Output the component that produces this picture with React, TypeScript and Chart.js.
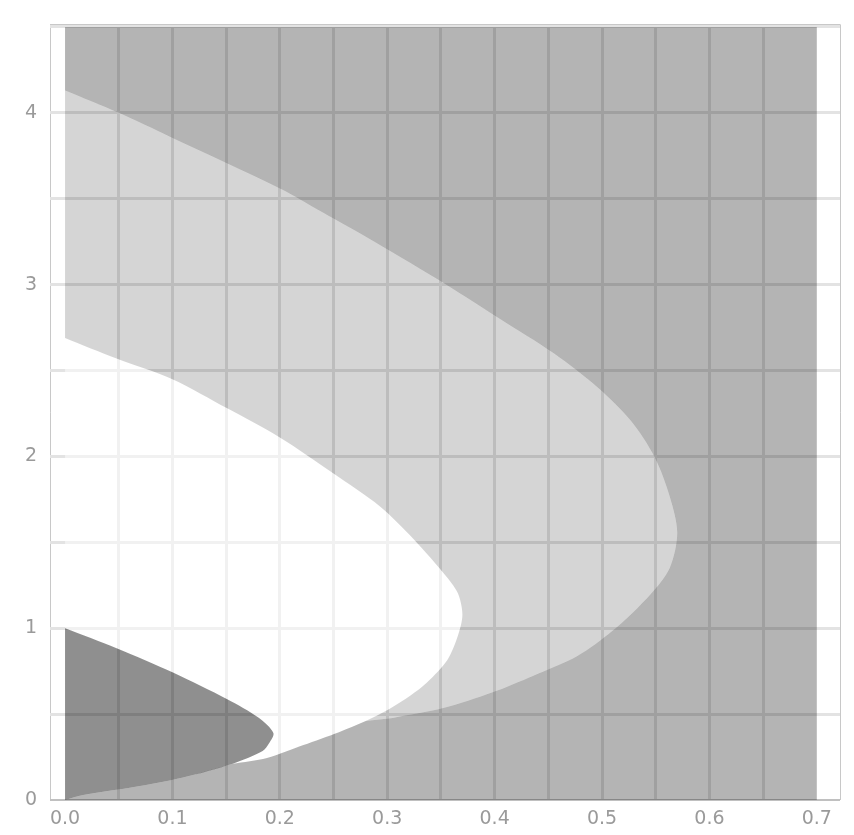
import React, { useEffect, useRef } from 'react';
import { Chart, registerables } from 'chart.js';

Chart.register(...registerables);

// Axis extents (frame) and tick lists
const xMin = -0.014;
const xMax = 0.7216;
const yMin = 0;
const yMax = 4.515;
const xTicks = [xMin, 0, 0.05, 0.1, 0.15, 0.2, 0.25, 0.3, 0.35, 0.4, 0.45, 0.5, 0.55, 0.6, 0.65, 0.7, xMax];
const yTicks = [0, 0.5, 1, 1.5, 2, 2.5, 3, 3.5, 4, 4.5, yMax];
const xLabelValues = [0, 0.1, 0.2, 0.3, 0.4, 0.5, 0.6, 0.7];
const yLabelValues = [0, 1, 2, 3, 4];

// Plot domain (region extent)
const domainX = [0, 0.7];
const domainY = [0, 4.5];

// Inner (darkest) curve: upper branch from left edge to tip
const c1UpperX = [0, 0.048, 0.101, 0.151, 0.18, 0.194];
const c1UpperY = [1.0, 0.884, 0.741, 0.587, 0.48, 0.39];
// lower branch from tip to junction with the white region's lower edge
const c1LowerAX = [0.19, 0.184, 0.156];
const c1LowerAY = [0.33, 0.285, 0.211];
// lower branch from junction to origin
const c1LowerBX = [0.11, 0.063, 0.017, 0];
const c1LowerBY = [0.131, 0.074, 0.029, 0];

// White region outer curve: lower edge from junction to second junction
const c2LowerAX = [0.188, 0.222, 0.255, 0.28];
const c2LowerAY = [0.245, 0.32, 0.395, 0.46];
// lower edge up to tip
const c2LowerBX = [0.302, 0.322, 0.337, 0.356, 0.366, 0.37];
const c2LowerBY = [0.53, 0.61, 0.684, 0.815, 0.96, 1.08];
// upper edge from tip to left edge
const c2UpperX = [0.366, 0.356, 0.324, 0.293, 0.25, 0.2, 0.151, 0.1, 0.048, 0];
const c2UpperY = [1.2, 1.294, 1.522, 1.71, 1.9, 2.11, 2.28, 2.45, 2.57, 2.69];

// Light region outer curve: lower edge from junction to tip
const c3LowerX = [0.305, 0.352, 0.398, 0.436, 0.477, 0.51, 0.545, 0.563, 0.57];
const c3LowerY = [0.478, 0.535, 0.627, 0.724, 0.838, 0.986, 1.197, 1.351, 1.556];
// upper edge from tip to left edge
const c3UpperX = [0.563, 0.549, 0.527, 0.497, 0.455, 0.405, 0.355, 0.288, 0.24, 0.2, 0.098, 0.05, 0];
const c3UpperY = [1.767, 1.995, 2.206, 2.395, 2.6, 2.8, 3.0, 3.25, 3.42, 3.56, 3.86, 4.0, 4.13];

const FONT = 'DejaVu Sans';
const GRID = '#e3e3e3';
const FRAME = '#c8c8c8';

type P = { x: number; y: number };
const pts = (xs: number[], ys: number[]): P[] => xs.map((x, i) => ({ x, y: ys[i] }));
const rev = (a: P[]) => [...a].reverse();
// join smooth pieces; duplicate each piece's end points so joins are sharp corners
const poly = (...pieces: P[][]): P[] =>
  pieces.flatMap((p) => [p[0], ...p, p[p.length - 1]]);

export default function App() {
  const ref = useRef<HTMLCanvasElement>(null);

  useEffect(() => {
    document.body.style.margin = '0';
    document.body.style.overflow = 'hidden';

    const c1Up = pts(c1UpperX, c1UpperY);
    const c1LA = pts(c1LowerAX, c1LowerAY);
    const c1LB = pts(c1LowerBX, c1LowerBY);
    const c2LA = pts(c2LowerAX, c2LowerAY);
    const c2LB = pts(c2LowerBX, c2LowerBY);
    const c2Up = pts(c2UpperX, c2UpperY);
    const c3Lo = pts(c3LowerX, c3LowerY);
    const c3Up = pts(c3UpperX, c3UpperY);
    const M2 = c1LA[c1LA.length - 1];
    const M3 = c2LA[c2LA.length - 1];

    const dark = poly([...c1Up, ...c1LA, ...c1LB]);
    const white = poly([...c1Up, ...c1LA], [M2, ...c2LA, ...c2LB, ...c2Up]);
    const light = poly([M3, ...c2LB, ...c2Up], [...rev(c3Up), ...rev(c3Lo)]);
    const medium = poly(
      [{ x: domainX[0], y: domainY[1] }],
      [...rev(c3Up), ...rev(c3Lo)],
      [...rev(c2LA), M2],
      [M2, ...c1LB],
      [{ x: domainX[1], y: domainY[0] }],
      [{ x: domainX[1], y: domainY[1] }],
    );

    const ds = (data: P[], color: string) => ({
      data,
      showLine: true,
      fill: 'shape' as const,
      backgroundColor: color,
      borderColor: 'rgba(0,0,0,0)',
      borderWidth: 0,
      pointRadius: 0,
      tension: 0.3,
    });

    const near = (a: number, b: number) => Math.abs(a - b) < 1e-9;

    const chart = new Chart(ref.current!, {
      type: 'scatter',
      data: {
        datasets: [
          ds(medium, 'rgba(0,0,0,0.295)'),
          ds(light, 'rgba(0,0,0,0.165)'),
          ds(dark, 'rgba(0,0,0,0.44)'),
          ds(white, 'rgba(255,255,255,0.5)'),
        ] as any,
      },
      options: {
        animation: false,
        responsive: false,
        devicePixelRatio: 1,
        events: [],
        layout: { padding: { top: 9, right: 14, left: 0, bottom: 0 } },
        plugins: { legend: { display: false }, tooltip: { enabled: false } },
        scales: {
          x: {
            type: 'linear',
            min: xMin,
            max: xMax,
            afterBuildTicks: (s: any) => {
              s.ticks = xTicks.map((v) => ({ value: v }));
            },
            afterFit: (s: any) => {
              s.height = 35;
            },
            ticks: {
              autoSkip: false,
              maxRotation: 0,
              padding: 8,
              color: '#9a9a9a',
              font: { family: FONT, size: 19 },
              callback: (v: any) => {
                const n = Number(v);
                return xLabelValues.some((t) => near(t, n)) ? n.toFixed(1) : '';
              },
            },
            grid: {
              drawTicks: false,
              color: (ctx: any) => {
                const v = ctx.tick.value;
                if (near(v, xMin) || near(v, xMax)) return FRAME;
                if (near(v, domainX[0]) || near(v, domainX[1])) return 'rgba(0,0,0,0)';
                return GRID;
              },
              lineWidth: (ctx: any) => {
                const v = ctx.tick.value;
                if (near(v, xMin) || near(v, xMax)) return 1;
                return 3;
              },
            },
            border: { display: false },
          },
          y: {
            type: 'linear',
            min: yMin,
            max: yMax,
            afterBuildTicks: (s: any) => {
              s.ticks = yTicks.map((v) => ({ value: v }));
            },
            afterFit: (s: any) => {
              s.width = 50;
            },
            ticks: {
              autoSkip: false,
              padding: 13,
              color: '#9a9a9a',
              font: { family: FONT, size: 19 },
              callback: (v: any) => {
                const n = Number(v);
                return yLabelValues.some((t) => near(t, n)) ? String(Math.round(n)) : '';
              },
            },
            grid: {
              drawTicks: false,
              color: (ctx: any) => {
                const v = ctx.tick.value;
                if (near(v, yMax)) return FRAME;
                if (near(v, 0)) return '#c0c0c0';
                return GRID;
              },
              lineWidth: (ctx: any) => {
                const v = ctx.tick.value;
                if (near(v, yMax)) return 1;
                if (near(v, 0)) return 2;
                return 3;
              },
            },
            border: { display: false },
          },
        },
      },
    } as any);

    return () => chart.destroy();
  }, []);

  return (
    <div style={{ width: 854, height: 835 }}>
      <canvas ref={ref} width={854} height={835} style={{ display: 'block' }} />
    </div>
  );
}
